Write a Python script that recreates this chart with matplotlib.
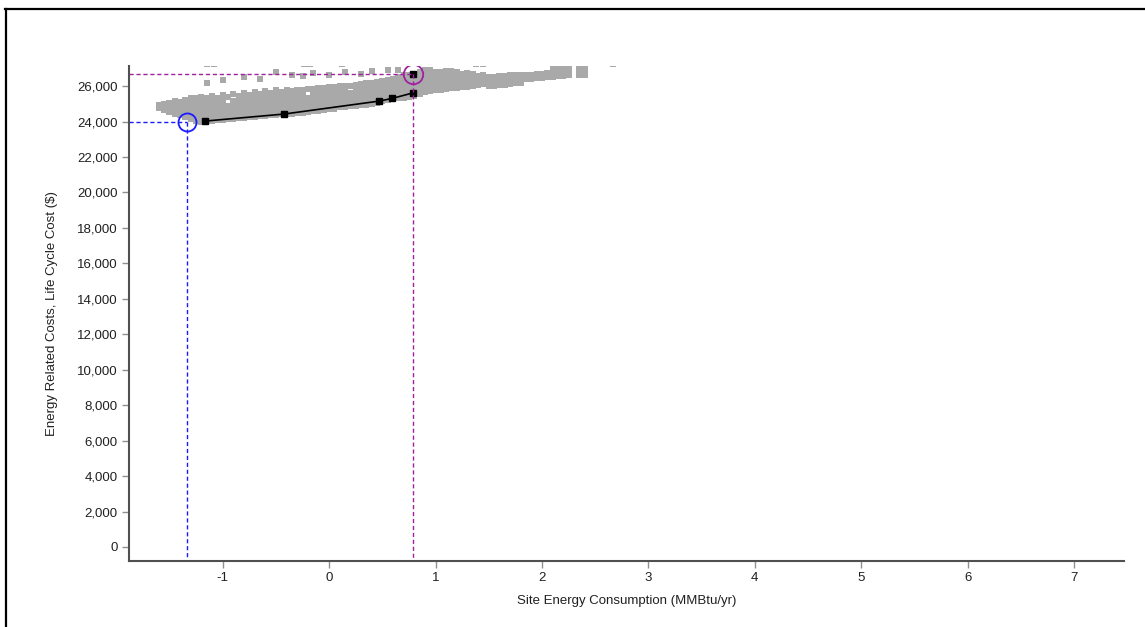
import matplotlib.pyplot as plt
from matplotlib.lines import Line2D
from matplotlib.ticker import FuncFormatter

plt.rcParams['font.family'] = ['Liberation Sans', 'DejaVu Sans']
plt.rcParams['axes.unicode_minus'] = False

# simulated designs (site energy MMBtu/yr, life cycle cost $), one column per energy value
cloud_x = [-1.60, -1.55, -1.50, -1.45, -1.40, -1.35, -1.30, -1.25, -1.20, -1.15, -1.10,
           -1.05, -1.00, -0.95, -0.90, -0.85, -0.80, -0.75, -0.70, -0.65, -0.60, -0.55,
           -0.50, -0.45, -0.40, -0.35, -0.30, -0.25, -0.20, -0.15, -0.10, -0.05, 0.00,
           0.05, 0.10, 0.15, 0.20, 0.25, 0.30, 0.35, 0.40, 0.45, 0.50, 0.55, 0.60, 0.65,
           0.70, 0.75, 0.80, 0.85, 0.90, 0.95, 1.00, 1.05, 1.10, 1.15, 1.20, 1.25, 1.30,
           1.35, 1.40, 1.45, 1.50, 1.55, 1.60, 1.65, 1.70, 1.75, 1.80, 1.85, 1.90, 1.95,
           2.00, 2.05, 2.10, 2.15, 2.20, 2.25, 2.35, 2.40]
cloud_y = [
    [24750, 24950],
    [24650, 24850, 25000],
    [24550, 24800, 25050],
    [24450, 24700, 24950, 25150],
    [24350, 24600, 24850, 25100],
    [24250, 24500, 24750, 25000, 25200],
    [24150, 24400, 24650, 24900, 25150, 25300],
    [24050, 24300, 24550, 24800, 25050, 25300],
    [24000, 24250, 24500, 24750, 25000, 25250, 25400],
    [24050, 24300, 24550, 24800, 25050, 25350, 26200],
    [24050, 24300, 24550, 24800, 25050, 25300, 25450],
    [24100, 24350, 24600, 24850, 25100, 25350],
    [24100, 24350, 24600, 24850, 25100, 25350, 25500, 26330],
    [24150, 24400, 24650, 24900, 25400],
    [24150, 24400, 24650, 24900, 25150, 25550],
    [24200, 24450, 24700, 24950, 25200, 25450],
    [24200, 24450, 24700, 24950, 25200, 25450, 25600, 26500],
    [24250, 24500, 24750, 25000, 25250, 25500],
    [24250, 24500, 24750, 25000, 25250, 25500, 25650],
    [24300, 24550, 24800, 25050, 25300, 25550, 26400],
    [24300, 24550, 24800, 25050, 25300, 25550, 25700],
    [24350, 24600, 24850, 25100, 25350, 25600],
    [24350, 24600, 24850, 25100, 25350, 25600, 25750, 26790],
    [24400, 24650, 24900, 25150, 25400, 25650],
    [24400, 24650, 24900, 25150, 25400, 25650, 25800],
    [24450, 24700, 24950, 25200, 25450, 25700, 26620],
    [24500, 24750, 25000, 25250, 25500, 25800],
    [24500, 24750, 25000, 25250, 25500, 25750, 26560],
    [24550, 24800, 25050, 25300, 25850],
    [24600, 24850, 25100, 25350, 25600, 25850, 26730],
    [24600, 24850, 25100, 25350, 25600, 25900],
    [24650, 24900, 25150, 25400, 25650, 25900],
    [24700, 24950, 25200, 25450, 25700, 25950, 26620],
    [24700, 24950, 25200, 25450, 25700, 25950],
    [24800, 25050, 25300, 25550, 25800, 26000],
    [24800, 25050, 25300, 25550, 25800, 26000, 26790],
    [24850, 25100, 25350, 25600, 26000],
    [24850, 25100, 25350, 25600, 25850, 26050],
    [24950, 25200, 25450, 25700, 25950, 26100, 26680],
    [24950, 25200, 25450, 25700, 25950, 26150],
    [25000, 25250, 25500, 25750, 26000, 26200, 26850],
    [25050, 25300, 25550, 25800, 26050, 26250],
    [25150, 25400, 25650, 25900, 26150, 26300],
    [25200, 25450, 25700, 25950, 26200, 26350, 26900],
    [25250, 25500, 25750, 26000, 26250, 26400],
    [25300, 25550, 25800, 26050, 26300, 26500, 26900],
    [25350, 25600, 25850, 26100, 26350, 26600],
    [25400, 25650, 25900, 26150, 26400, 26650],
    [25450, 25700, 25950, 26200, 26450, 26700],
    [25550, 25800, 26050, 26300, 26550, 26800],
    [25650, 25900, 26150, 26400, 26650, 26900],
    [25700, 25950, 26200, 26450, 26700, 26900],
    [25800, 26050, 26300, 26550, 26800],
    [25800, 26050, 26300, 26550, 26800],
    [25850, 26100, 26350, 26600, 26850],
    [25900, 26150, 26400, 26650, 26850],
    [25900, 26150, 26400, 26650, 26800],
    [25950, 26200, 26450, 26700],
    [25950, 26200, 26450, 26750],
    [26000, 26250, 26500, 26700],
    [26050, 26300, 26550],
    [26100, 26350, 26600],
    [26000, 26250, 26500],
    [26000, 26250, 26500],
    [26050, 26300, 26550],
    [26050, 26300, 26550],
    [26100, 26350, 26600],
    [26150, 26400, 26600],
    [26200, 26450, 26650],
    [26400, 26650],
    [26400, 26650],
    [26450, 26700],
    [26450, 26700],
    [26500, 26750],
    [26500, 26750, 27000],
    [26550, 26800, 27000],
    [26550, 26800, 27000],
    [26600, 26850, 27050],
    [26600, 26850, 27050],
    [26600, 26850, 27050],
]
# designs just above the plotted range (only their lower edge shows)
top_x = [-1.15, -1.08, -0.24, -0.18, 0.12, 1.38, 1.45, 2.67]
top_y = [27230, 27230, 27230, 27230, 27230, 27230, 27230, 27230]

# optimal path
path_x = [-1.163, -0.423, 0.473, 0.595, 0.793]
path_y = [24026, 24421, 25154, 25306, 25622]

# reference design and least-cost design
ref_x, ref_y = 0.793, 26677
opt_x, opt_y = -1.335, 23990

x_ticks = [-1, 0, 1, 2, 3, 4, 5, 6, 7]
y_ticks = list(range(0, 26001, 2000))
x_min, x_max = -1.88, 7.47
y_min, y_max = -790, 27130

fig = plt.figure(figsize=(11.45, 6.27), dpi=100)
ax = fig.add_axes([0.1127, 0.1053, 0.8690, 0.7894])

gx = [x for x, col in zip(cloud_x, cloud_y) for _ in col]
gy = [y for col in cloud_y for y in col]
ax.plot(gx, gy, linestyle='none', marker='s', markersize=5, color='#a9a9a9',
        markeredgewidth=0)
ax.plot(top_x, top_y, linestyle='none', marker='s', markersize=5, color='#a9a9a9',
        markeredgewidth=0, clip_on=True)

ax.plot(path_x, path_y, color='black', linewidth=1.2, marker='s', markersize=5)
ax.plot([ref_x], [ref_y], linestyle='none', marker='s', markersize=5, color='black')

# guide lines to the axes
ax.plot([x_min, opt_x], [opt_y, opt_y], color='#1a1aff', linestyle=(0, (3, 2)), linewidth=1)
ax.plot([opt_x, opt_x], [opt_y, y_min], color='#1a1aff', linestyle=(0, (3, 2)), linewidth=1)
ax.plot([x_min, ref_x], [ref_y, ref_y], color='#a020a0', linestyle=(0, (3, 2)), linewidth=1)
ax.plot([ref_x, ref_x], [ref_y, y_min], color='#a020a0', linestyle=(0, (3, 2)), linewidth=1)

ax.plot([opt_x], [opt_y], linestyle='none', marker='o', markersize=13,
        markerfacecolor='none', markeredgecolor='#1a1aff', markeredgewidth=1.3)
ax.plot([ref_x], [ref_y], linestyle='none', marker='o', markersize=14,
        markerfacecolor='none', markeredgecolor='#a020a0', markeredgewidth=1.3)

ax.set_xlim(x_min, x_max)
ax.set_ylim(y_min, y_max)
ax.set_xticks(x_ticks)
ax.set_yticks(y_ticks)
ax.yaxis.set_major_formatter(FuncFormatter(lambda v, p: f'{int(v):,}'))

for side in ['top', 'right']:
    ax.spines[side].set_visible(False)
for side in ['left', 'bottom']:
    ax.spines[side].set_color('#505050')
    ax.spines[side].set_linewidth(1.5)
ax.tick_params(direction='out', length=5, width=1, color='#909090',
               labelsize=9.5, labelcolor='#202020', pad=3)

ax.set_xlabel('Site Energy Consumption (MMBtu/yr)', fontsize=9.5, color='#202020', labelpad=8)
ax.set_ylabel('Energy Related Costs, Life Cycle Cost ($)', fontsize=9.5, color='#202020',
              labelpad=14)

# panel border
fig.add_artist(Line2D([0.004, 1.0], [0.986, 0.986], color='black', linewidth=1.6))
fig.add_artist(Line2D([0.0055, 0.0055], [0.0, 0.986], color='black', linewidth=1.6))

fig.savefig('out.png', dpi=100)
